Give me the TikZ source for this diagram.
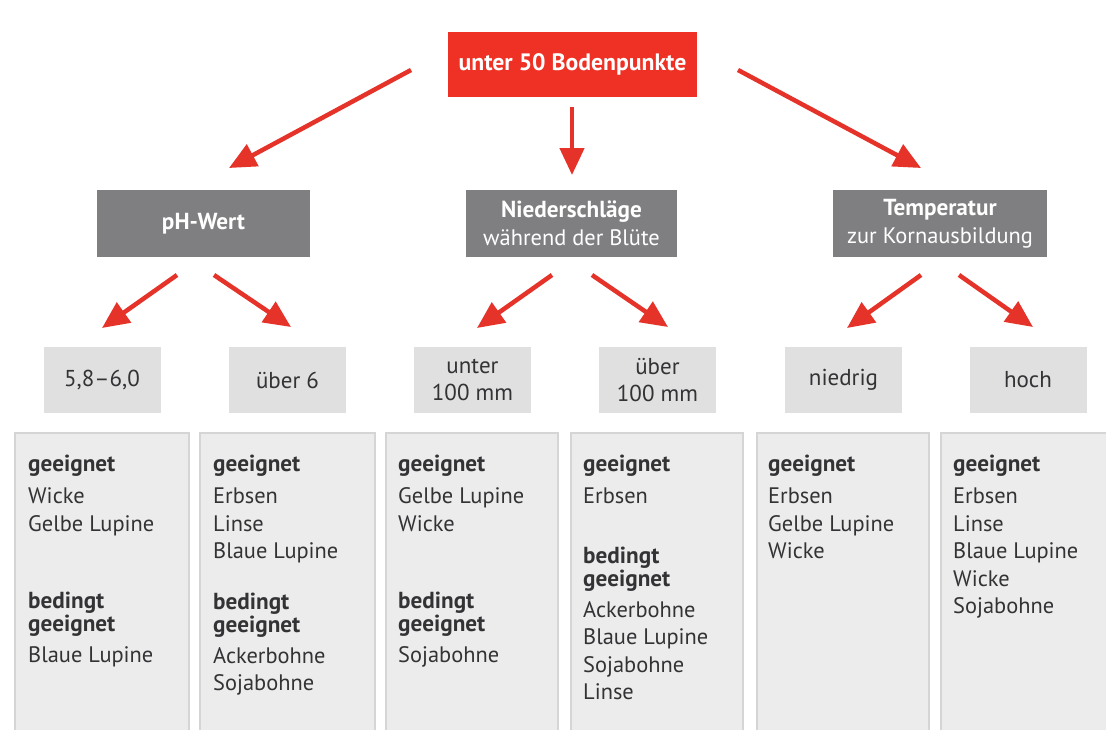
\documentclass[tikz,border=0pt]{standalone}
\usepackage{fontspec}
\setmainfont{PT Sans}
\usetikzlibrary{arrows.meta}
\definecolor{topred}{HTML}{EE3124}
\definecolor{arrred}{HTML}{E5332A}
\definecolor{catgray}{HTML}{7F7F82}
\definecolor{optgray}{HTML}{E0E0E1}
\definecolor{listfill}{HTML}{ECECEC}
\definecolor{listline}{HTML}{D5D5D5}
\definecolor{txt}{HTML}{333336}
\newcommand\bft[1]{{\fontsize{23.2}{27.5}\selectfont\bfseries #1}}
\tikzset{
  basefont/.style={font=\fontsize{22.4}{27.5}\selectfont},
  topbox/.style={fill=topred, text=white, font=\fontsize{23.7}{27.5}\selectfont\bfseries, minimum width=249pt, minimum height=65pt, inner sep=0pt},
  catbox/.style={fill=catgray, text=white, basefont, align=center, minimum width=213pt, minimum height=67pt, inner sep=0pt},
  optbox/.style={fill=optgray, text=txt, font=\fontsize{23}{27.5}\selectfont, align=center, minimum width=117pt, minimum height=66pt, inner sep=0pt},
  listbox/.style={fill=listfill, draw=listline, line width=1.5pt},
  listtext/.style={text=txt, basefont, align=left, anchor=base west, inner sep=0pt},
  redarrow/.style={draw=arrred, line width=4.5pt, -{Triangle[length=27pt,width=24pt]}},
}
\begin{document}
\begin{tikzpicture}[x=1pt,y=-1pt]
\useasboundingbox (0,0) rectangle (1106,729);
\fill[white] (0,0) rectangle (1106,729);

% top
\node[topbox] (top) at (572.5,64.5) {unter 50 Bodenpunkte};

% categories
\node[catbox] (ph) at (203.5,223.5) {\bft{pH-Wert}};
\node[catbox, minimum width=211pt] (nied) at (571.5,223.5) {\bft{Niederschläge}\\während der Blüte};
\node[catbox, minimum width=214pt] (temp) at (940,223.5) {\bft{Temperatur}\\zur Kornausbildung};

% options
\node[optbox] (o1) at (102,380) {5,8–6,0};
\node[optbox] (o2) at (287.5,380) {über 6};
\node[optbox] (o3) at (472.5,380) {unter\\100 mm};
\node[optbox] (o4) at (657.5,380) {über\\100 mm};
\node[optbox] (o5) at (843.5,380) {niedrig};
\node[optbox] (o6) at (1028,380) {hoch};

% list boxes
\draw[listbox] (15,433) rectangle (189,740);
\draw[listbox] (200,433) rectangle (375,740);
\draw[listbox] (386,433) rectangle (558,740);
\draw[listbox] (571,433) rectangle (743,740);
\draw[listbox] (757,433) rectangle (929,740);
\draw[listbox] (941,433) rectangle (1120,740);

% list texts (anchor = baseline of the last line)
\node[listtext] (l1) at (28,662) {\bft{geeignet}\\[5pt]Wicke\\Gelbe Lupine\\[49.5pt]\bft{bedingt}\\[-4.5pt]\bft{geeignet}\\[3.5pt]Blaue Lupine};
\node[listtext] (l2) at (213,690.5) {\bft{geeignet}\\[5pt]Erbsen\\Linse\\Blaue Lupine\\[23pt]\bft{bedingt}\\[-4.5pt]\bft{geeignet}\\[3.5pt]Ackerbohne\\Sojabohne};
\node[listtext] (l3) at (398,662) {\bft{geeignet}\\[5pt]Gelbe Lupine\\Wicke\\[49.5pt]\bft{bedingt}\\[-4.5pt]\bft{geeignet}\\[3.5pt]Sojabohne};
\node[listtext] (l4) at (583,699.5) {\bft{geeignet}\\[5pt]Erbsen\\[32pt]\bft{bedingt}\\[-4.5pt]\bft{geeignet}\\[3.5pt]Ackerbohne\\Blaue Lupine\\Sojabohne\\Linse};
\node[listtext] (l5) at (768,558.5) {\bft{geeignet}\\[5pt]Erbsen\\Gelbe Lupine\\Wicke};
\node[listtext] (l6) at (953,613.5) {\bft{geeignet}\\[5pt]Erbsen\\Linse\\Blaue Lupine\\Wicke\\Sojabohne};

% arrow end points
\coordinate (a1s) at (411,70);  \coordinate (a1e) at (229,168);
\coordinate (a2s) at (572,107); \coordinate (a2e) at (572,175);
\coordinate (a3s) at (738,70);  \coordinate (a3e) at (921,168);
\coordinate (b1s) at (177,275); \coordinate (b1e) at (102,328);
\coordinate (b2s) at (214,275); \coordinate (b2e) at (291,327);
\coordinate (b3s) at (552,275); \coordinate (b3e) at (477,328);
\coordinate (b4s) at (592,275); \coordinate (b4e) at (668,327);
\coordinate (b5s) at (921,275); \coordinate (b5e) at (847,328);
\coordinate (b6s) at (959,275); \coordinate (b6e) at (1033,327);

\draw[redarrow] (a1s) -- (a1e);
\draw[redarrow] (a2s) -- (a2e);
\draw[redarrow] (a3s) -- (a3e);
\draw[redarrow] (b1s) -- (b1e);
\draw[redarrow] (b2s) -- (b2e);
\draw[redarrow] (b3s) -- (b3e);
\draw[redarrow] (b4s) -- (b4e);
\draw[redarrow] (b5s) -- (b5e);
\draw[redarrow] (b6s) -- (b6e);
\end{tikzpicture}
\end{document}
